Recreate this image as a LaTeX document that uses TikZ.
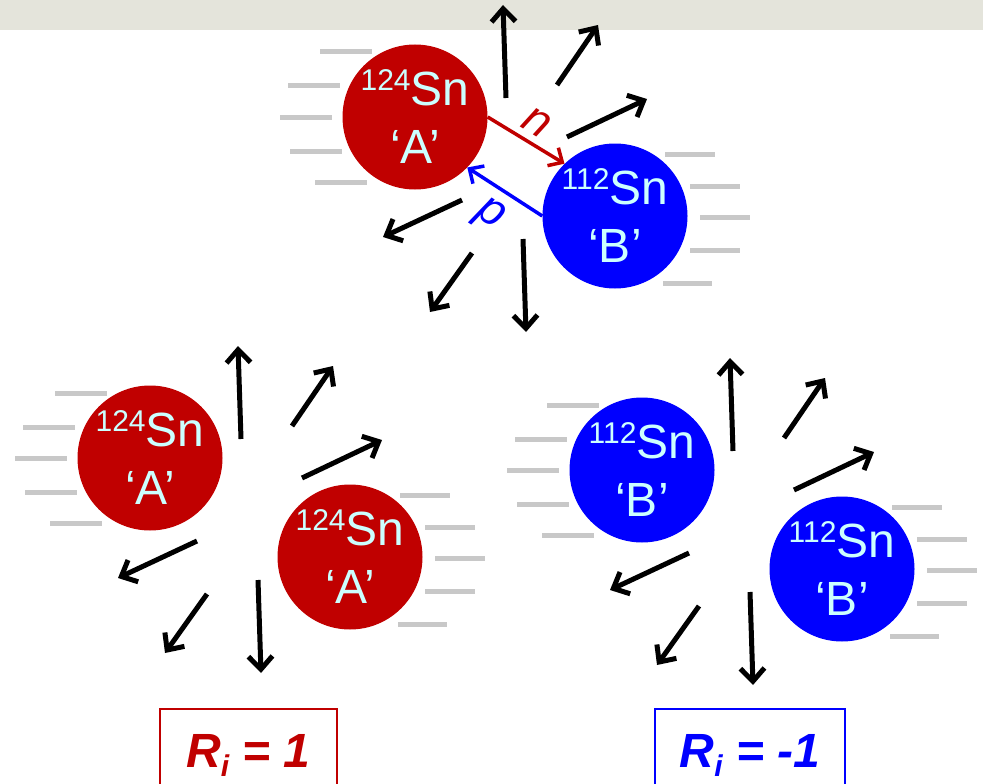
\documentclass[tikz,border=0pt]{standalone}
\usepackage{fontspec}
\setmainfont{Liberation Sans}
\usepackage{xcolor}
\usetikzlibrary{arrows.meta}
\definecolor{nucred}{RGB}{192,0,0}
\definecolor{nucblue}{RGB}{0,0,255}
\definecolor{nuctext}{RGB}{204,255,255}
\definecolor{streakgray}{RGB}{200,200,200}
\definecolor{bandgray}{RGB}{228,228,219}
\newcommand{\Sn}[2]{\raisebox{15pt}{\fontsize{30}{30}\selectfont #1}Sn\\‘#2’}
\newcommand{\Ri}{R\raisebox{-9pt}{\fontsize{30}{30}\selectfont i}}
% streaks behind the pair and the spray of fragments (top-pair frame)
\newcommand{\Spray}{%
  \draw[streak] (320,52)--(372,52) (288,86)--(340,86) (280,117)--(332,117)
    (290,151)--(342,151) (315,182)--(367,182);
  \draw[streak] (665,154)--(715,154) (690,186)--(740,186) (700,217)--(750,217)
    (690,250)--(740,250) (663,283)--(712,283);
  \draw[shot] (506,98)--(503,5);
  \draw[shot] (557,85)--(598,25);
  \draw[shot] (567,137)--(647,99);
  \draw[shot] (462,200)--(383,237);
  \draw[shot] (472,253)--(430,312);
  \draw[shot] (523,239)--(526,332);}

\begin{document}
\begin{tikzpicture}[x=1pt,y=-1pt,
  >={Straight Barb[length=13pt,width=24pt]},
  nuc/.style={circle,inner sep=0pt,minimum size=145pt,text=nuctext,align=center,
    font=\fontsize{48}{58}\selectfont},
  shot/.style={->,line width=5pt},
  streak/.style={line width=5pt,draw=streakgray},
  flow/.style={-{Straight Barb[length=11pt,width=21pt]},line width=3.5pt},
  flowlbl/.style={sloped,font=\fontsize{46}{46}\selectfont\itshape},
  ratio/.style={draw,line width=2pt,anchor=north,inner sep=0pt,minimum width=177pt,
    text height=58pt,text depth=60pt,font=\fontsize{48}{48}\selectfont\bfseries\itshape}]
  \useasboundingbox (0,0) rectangle (983,784);
  \fill[bandgray] (0,0) rectangle (983,30);
  \Spray
  \begin{scope}[shift={(-265,341)}]\Spray\end{scope}
  \begin{scope}[shift={(227,353)}]\Spray\end{scope}
  \node[nuc,fill=nucred] (topA) at (415,117) {\Sn{124}{A}};
  \node[nuc,fill=nucblue] (topB) at (615,216) {\Sn{112}{B}};
  \node[nuc,fill=nucred] (lowA1) at (150,458) {\Sn{124}{A}};
  \node[nuc,fill=nucred] (lowA2) at (350,557) {\Sn{124}{A}};
  \node[nuc,fill=nucblue] (lowB1) at (642,470) {\Sn{112}{B}};
  \node[nuc,fill=nucblue] (lowB2) at (842,569) {\Sn{112}{B}};
  \draw[flow,nucred] (topA.east)--node[flowlbl,above=3pt]{n} (topB.134);
  \draw[flow,nucblue] (topB.west)--node[flowlbl,below=7pt]{p} (topA.-44);
  \node[ratio,draw=nucred,text=nucred] (ratioA) at (248.5,708) {\Ri{} = 1};
  \node[ratio,draw=nucblue,text=nucblue,minimum width=190pt] (ratioB) at (750,708) {\Ri{} = -1};
\end{tikzpicture}
\end{document}
